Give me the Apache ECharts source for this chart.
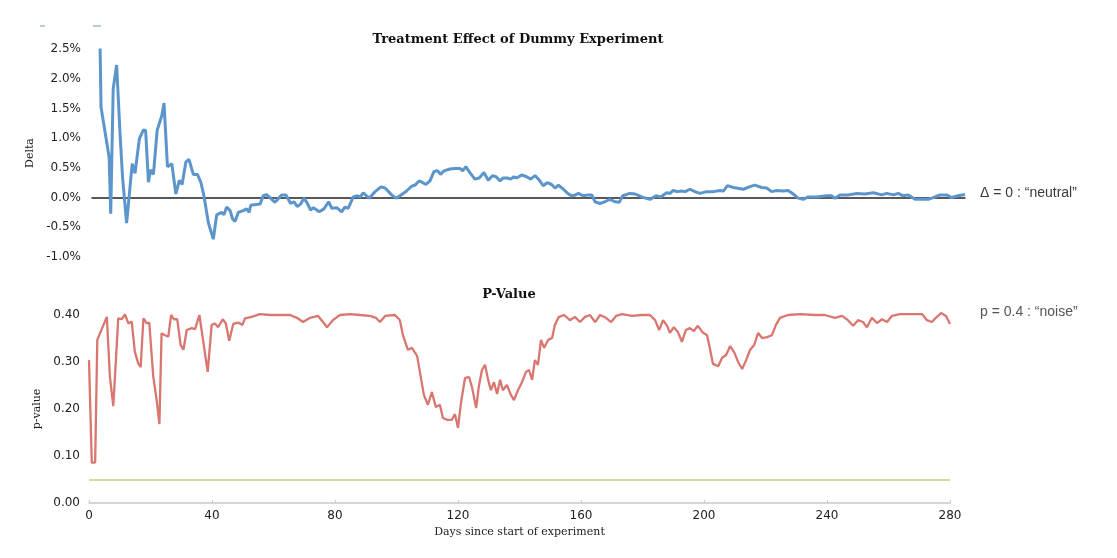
<!DOCTYPE html>
<html>
<head>
<meta charset="utf-8">
<script src="https://cdn.jsdelivr.net/npm/echarts@6/dist/echarts.min.js"></script>
<style>
html,body{margin:0;padding:0;background:#fff;}
#chart{width:1117px;height:558px;}
</style>
</head>
<body>
<div id="chart"></div>
<script>
// Treatment effect (Delta, in %) by day
const deltaDays = [2.6,2.9,5.5,6.0,6.8,7.9,9.0,9.8,11.1,12.9,13.8,15.2,16.5,17.2,18.1,18.8,19.7,20.9,22.4,23.1,24.2,25.6,26.9,28.0,28.9,30.1,31.1,32.5,33.8,34.9,35.9,37.3,38.9,40.0,41.6,42.3,43.2,44.3,45.1,45.9,46.9,48.5,49.6,50.4,50.9,53.9,54.9,56.0,
57.1,58.7,60.8,62.2,63.7,64.8,65.8,66.9,68.0,69.1,70.1,71.0,72.9,74.4,75.9,76.9,78.5,80.1,81.1,82.2,83.8,85.1,86.0,87.0,88.9,90.8,92.7,94.0,96.1,97.5,98.8,100.9,102.5,103.6,104.9,106.1,107.1,108.4,109.7,110.9,111.8,112.9,114.8,116.4,118.0,118.9,119.9,121.2,122.8,124.2,125.7,127.1,128.5,129.6,130.9,131.9,133.2,134.3,135.3,136.2,137.8,139.4,140.7,142.1,143.5,144.7,146.0,147.4,148.5,149.6,151.2,152.6,153.8,154.9,156.0,157.6,159.2,160.3,161.3,162.9,164.5,166.1,167.7,169.1,
170.2,172.5,174.2,176.3,179.0,180.9,182.4,184.3,185.4,186.4,187.7,189.1,190.2,191.8,193.4,195.0,197.1,199.3,201.4,202.5,203.8,205.7,208.9,210.8,212.6,214.8,216.4,218.0,219.6,221.7,223.3,224.9,226.5,228.1,229.7,232.4,235.6,237.2,238.3,239.9,242.6,245.3,247.9,250.6,253.3,254.9,257.0,258.6,260.2,261.8,264.0,265.6,268.2,269.8,272.0,274.1,275.7,277.8,280.0];
const deltaValues = [2.51,1.52,0.68,-0.27,1.83,2.23,1.07,0.34,-0.43,0.57,0.41,0.99,1.14,1.13,0.26,0.47,0.39,1.13,1.38,1.59,0.52,0.57,0.06,0.29,0.22,0.60,0.64,0.39,0.39,0.26,0.03,-0.42,-0.70,-0.29,-0.25,-0.29,-0.16,-0.22,-0.36,-0.40,-0.25,-0.22,-0.19,-0.25,-0.13,-0.11,0.03,0.05,
0.0,-0.08,0.045,0.045,-0.10,-0.07,-0.15,-0.11,-0.01,-0.10,-0.21,-0.17,-0.24,-0.19,-0.07,-0.18,-0.17,-0.24,-0.16,-0.18,0.01,0.03,0.01,0.08,-0.01,0.10,0.18,0.16,0.045,-0.01,0.03,0.11,0.19,0.21,0.28,0.25,0.22,0.28,0.44,0.45,0.39,0.45,0.48,0.49,0.49,0.45,0.52,0.42,0.31,0.33,0.42,0.29,0.37,0.35,0.28,0.33,0.33,0.31,0.35,0.33,0.38,0.35,0.31,0.37,0.29,0.20,0.25,0.22,0.16,0.21,0.14,0.07,0.03,0.04,0.07,0.03,0.045,0.045,-0.07,-0.10,-0.07,-0.03,-0.07,-0.08,
0.03,0.07,0.06,0.01,-0.03,0.03,0.01,0.08,0.07,0.12,0.10,0.11,0.10,0.14,0.10,0.07,0.10,0.10,0.12,0.11,0.20,0.17,0.14,0.18,0.21,0.17,0.16,0.10,0.12,0.11,0.12,0.06,-0.01,-0.03,0.01,0.01,0.03,0.03,-0.01,0.045,0.045,0.07,0.06,0.08,0.045,0.07,0.045,0.07,0.03,0.045,-0.03,-0.03,-0.03,0,0.045,0.045,0,0.03,0.05];

// p-value by day
const pDays = [0,0.9,2.0,2.7,5.8,6.8,7.9,9.0,9.5,10.6,11.7,12.8,13.9,14.9,16.0,16.8,17.7,18.8,19.6,20.9,22.0,22.9,23.6,24.7,25.8,26.7,27.6,28.7,29.8,30.7,31.8,33.4,34.5,35.9,38.6,39.9,41.0,42.0,43.5,44.5,45.6,46.9,48.5,49.9,50.7,52.9,55.6,58.9,62.1,
65.4,67.6,69.6,71.9,74.5,76.1,77.4,79.3,81.6,84.9,88.1,91.4,93.3,94.6,96.3,99.5,101.1,102.1,103.7,105.0,106.7,107.6,108.9,110.2,111.5,112.8,114.1,115.1,116.4,118.0,119.0,120.0,121.0,122.3,123.6,124.6,125.9,126.8,127.8,128.8,129.8,130.7,131.7,132.7,133.7,134.6,135.9,137.2,138.2,139.5,140.8,142.1,143.1,144.1,145.0,146.0,147.0,148.0,149.3,150.6,151.5,152.8,154.5,156.4,158.0,159.7,161.3,162.9,164.6,166.2,168.1,169.8,171.4,173.3,176.6,179.8,182.4,184.1,185.4,186.7,188.0,188.9,190.2,191.5,192.8,194.1,195.4,196.7,198.0,199.7,201.0,202.0,202.9,204.6,205.9,207.2,208.5,209.8,211.1,212.4,213.7,215.0,216.3,217.6,218.9,220.5,222.1,223.4,224.7,227.3,231.2,236.1,239.3,242.6,244.9,246.8,248.5,250.1,251.7,253.0,254.6,256.3,257.9,259.5,261.1,263.7,267.6,270.9,272.5,274.1,275.4,277.1,278.7,280.0];
const pValues = [0.304,0.086,0.086,0.347,0.396,0.269,0.206,0.333,0.393,0.391,0.401,0.382,0.386,0.322,0.297,0.289,0.393,0.382,0.384,0.269,0.219,0.168,0.361,0.357,0.354,0.400,0.391,0.391,0.336,0.326,0.368,0.372,0.370,0.400,0.279,0.379,0.382,0.374,0.391,0.382,0.345,0.381,0.384,0.379,0.393,0.396,0.402,0.400,0.400,
0.400,0.394,0.385,0.394,0.398,0.385,0.374,0.389,0.400,0.402,0.400,0.398,0.394,0.385,0.398,0.400,0.389,0.357,0.326,0.330,0.313,0.279,0.230,0.209,0.236,0.204,0.209,0.181,0.177,0.177,0.189,0.160,0.215,0.266,0.268,0.245,0.202,0.249,0.283,0.294,0.262,0.240,0.257,0.232,0.262,0.240,0.251,0.230,0.219,0.240,0.257,0.279,0.283,0.262,0.304,0.294,0.347,0.330,0.347,0.351,0.379,0.396,0.400,0.389,0.396,0.385,0.396,0.400,0.385,0.400,0.394,0.385,0.398,0.402,0.398,0.400,0.400,0.389,0.368,0.389,0.377,0.362,0.374,0.364,0.343,0.368,0.372,0.366,0.377,0.362,0.357,0.326,0.296,0.291,0.309,0.315,0.334,0.321,0.300,0.285,0.304,0.326,0.336,0.362,0.351,0.353,0.357,0.379,0.394,0.400,0.402,0.400,0.400,0.394,0.398,0.389,0.377,0.389,0.385,0.374,0.394,0.383,0.391,0.385,0.398,0.402,0.402,0.402,0.389,0.385,0.394,0.404,0.398,0.381];

const xTicks = [0, 40, 80, 120, 160, 200, 240, 280];
const deltaTicks = [-1.0, -0.5, 0.0, 0.5, 1.0, 1.5, 2.0, 2.5];
const pTicks = [0.00, 0.10, 0.20, 0.30, 0.40];
const significance = 0.05;

const titles = ['Treatment Effect of Dummy Experiment', 'P-Value'];
const yNames = ['Delta', 'p-value'];
const xName = 'Days since start of experiment';
const notes = ['\u0394 = 0 : \u201cneutral\u201d', 'p = 0.4 : \u201cnoise\u201d'];

const pair = (xs, ys) => xs.map((x, i) => [x, ys[i]]);
const tickFont = {fontFamily: 'DejaVu Sans', fontSize: 12, color: '#222'};
const serifName = {fontFamily: 'DejaVu Serif', fontSize: 11, color: '#222'};

const chart = echarts.init(document.getElementById('chart'), null, {renderer: 'canvas'});
chart.setOption({
  animation: false,
  backgroundColor: '#ffffff',
  title: [
    {text: titles[0], left: 513, top: 28, textAlign: 'center',
     textStyle: {fontFamily: 'DejaVu Serif', fontWeight: 'bold', fontSize: 13, color: '#111'}},
    {text: titles[1], left: 504, top: 283, textAlign: 'center',
     textStyle: {fontFamily: 'DejaVu Serif', fontWeight: 'bold', fontSize: 13, color: '#111'}}
  ],
  grid: [
    {left: 92, right: 152, top: 49, bottom: 301},
    {left: 89, right: 167, top: 315, bottom: 55}
  ],
  xAxis: [
    {type: 'value', gridIndex: 0, min: xTicks[0], max: xTicks[xTicks.length - 1], interval: 40,
     axisLine: {show: true, onZero: true, lineStyle: {color: '#222', width: 1.5}},
     axisTick: {show: false}, axisLabel: {show: false}, splitLine: {show: false}},
    {type: 'value', gridIndex: 1, min: xTicks[0], max: xTicks[xTicks.length - 1], interval: 40,
     name: xName, nameLocation: 'middle', nameGap: 24, nameTextStyle: serifName,
     axisLine: {show: true, lineStyle: {color: '#c8c8c8', width: 1.5}},
     axisTick: {show: true, inside: true, length: 3, lineStyle: {color: '#c8c8c8'}},
     axisLabel: Object.assign({margin: 7}, tickFont), splitLine: {show: false}}
  ],
  yAxis: [
    {type: 'value', gridIndex: 0, min: deltaTicks[0], max: deltaTicks[deltaTicks.length - 1], interval: 0.5,
     name: yNames[0], nameLocation: 'middle', nameGap: 48, nameRotate: 90, nameTextStyle: serifName,
     axisLine: {show: false}, axisTick: {show: false}, splitLine: {show: false},
     axisLabel: Object.assign({margin: 11, formatter: v => v.toFixed(1) + '%'}, tickFont)},
    {type: 'value', gridIndex: 1, min: pTicks[0], max: pTicks[pTicks.length - 1], interval: 0.1,
     name: yNames[1], nameLocation: 'middle', nameGap: 42, nameRotate: 90, nameTextStyle: serifName,
     axisLine: {show: false}, axisTick: {show: false}, splitLine: {show: false},
     axisLabel: Object.assign({margin: 9, formatter: v => v.toFixed(2)}, tickFont)}
  ],
  series: [
    {type: 'line', xAxisIndex: 0, yAxisIndex: 0, data: pair(deltaDays, deltaValues),
     showSymbol: false, clip: false, lineStyle: {color: '#5b95cb', width: 3}, z: 3},
    {type: 'line', xAxisIndex: 1, yAxisIndex: 1, data: pair(pDays, pValues),
     showSymbol: false, clip: false, lineStyle: {color: '#d9766f', width: 2.3}, z: 3,
     markLine: {silent: true, symbol: 'none', label: {show: false},
       lineStyle: {color: '#bed37c', width: 1.5, type: 'solid'},
       data: [{yAxis: significance}]}}
  ],
  graphic: [
    {type: 'text', left: 980, top: 186, style: {text: notes[0], fontFamily: 'Liberation Sans', fontSize: 14, fill: '#3a3a3a'}},
    {type: 'text', left: 980, top: 305, style: {text: notes[1], fontFamily: 'Liberation Sans', fontSize: 14, fill: '#555'}},
    {type: 'rect', left: 40, top: 25, shape: {width: 5, height: 2}, style: {fill: '#a9d2dd'}},
    {type: 'rect', left: 93, top: 25, shape: {width: 8, height: 2}, style: {fill: '#a9d2dd'}}
  ]
});
</script>
</body>
</html>
